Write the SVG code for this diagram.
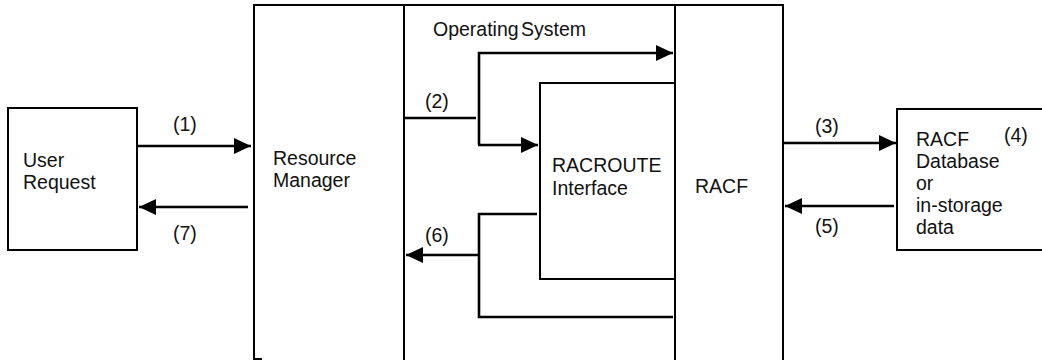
<svg xmlns="http://www.w3.org/2000/svg" width="1042" height="360" viewBox="0 0 1042 360">
<style>
.box{fill:none;stroke:#000;stroke-width:2}
.con{fill:none;stroke:#000;stroke-width:2.6}
text{font-family:"Liberation Sans",Arial,Helvetica,sans-serif;font-size:19.5px;fill:#111}
</style>
<defs>
<marker id="ah" markerUnits="userSpaceOnUse" markerWidth="17" markerHeight="16" refX="17" refY="8" orient="auto">
<path d="M0,0 L17,8 L0,16 z" fill="#000"/>
</marker>
</defs>
<rect x="0" y="0" width="1042" height="360" fill="#fff"/>
<g id="user-request">
<rect class="box" x="8" y="108" width="129" height="142"/>
<text x="23" y="167">User</text>
<text x="23" y="189">Request</text>
</g>
<g id="resource-manager">
<path class="box" d="M254,362 V5 H404 V362"/>
<path class="box" d="M254,359 H262"/>
<text x="273" y="165">Resource</text>
<text x="273" y="187">Manager</text>
</g>
<g id="operating-system">
<path class="box" d="M404,5 H675"/>
<text x="433" y="36" word-spacing="-3">Operating System</text>
</g>
<g id="racroute-interface">
<path class="box" d="M675,83 H540 V279 H675"/>
<text x="552" y="172">RACROUTE</text>
<text x="552" y="195">Interface</text>
</g>
<g id="racf">
<path class="box" d="M675,362 V5 H783 V362"/>
<text x="695" y="193">RACF</text>
</g>
<g id="racf-database">
<rect class="box" x="897" y="109" width="160" height="141"/>
<text x="916" y="146">RACF</text>
<text x="1004" y="142">(4)</text>
<text x="916" y="168">Database</text>
<text x="916" y="190">or</text>
<text x="916" y="212">in-storage</text>
<text x="916" y="234">data</text>
</g>
<g id="connectors">
<path class="con" d="M138,146 H251" marker-end="url(#ah)"/>
<text x="173" y="131">(1)</text>
<path class="con" d="M248,207 H139" marker-end="url(#ah)"/>
<text x="173" y="240">(7)</text>
<path class="con" d="M405,118 H476"/>
<text x="425" y="108">(2)</text>
<path class="con" d="M479,145 V53 H673" marker-end="url(#ah)"/>
<path class="con" d="M478,145 H538" marker-end="url(#ah)"/>
<path class="con" d="M537,214 H479 V317 H673"/>
<path class="con" d="M479,255 H406" marker-end="url(#ah)"/>
<text x="425" y="242">(6)</text>
<path class="con" d="M784,143 H896" marker-end="url(#ah)"/>
<text x="815" y="133">(3)</text>
<path class="con" d="M894,206 H785" marker-end="url(#ah)"/>
<text x="815" y="233">(5)</text>
</g>
</svg>
